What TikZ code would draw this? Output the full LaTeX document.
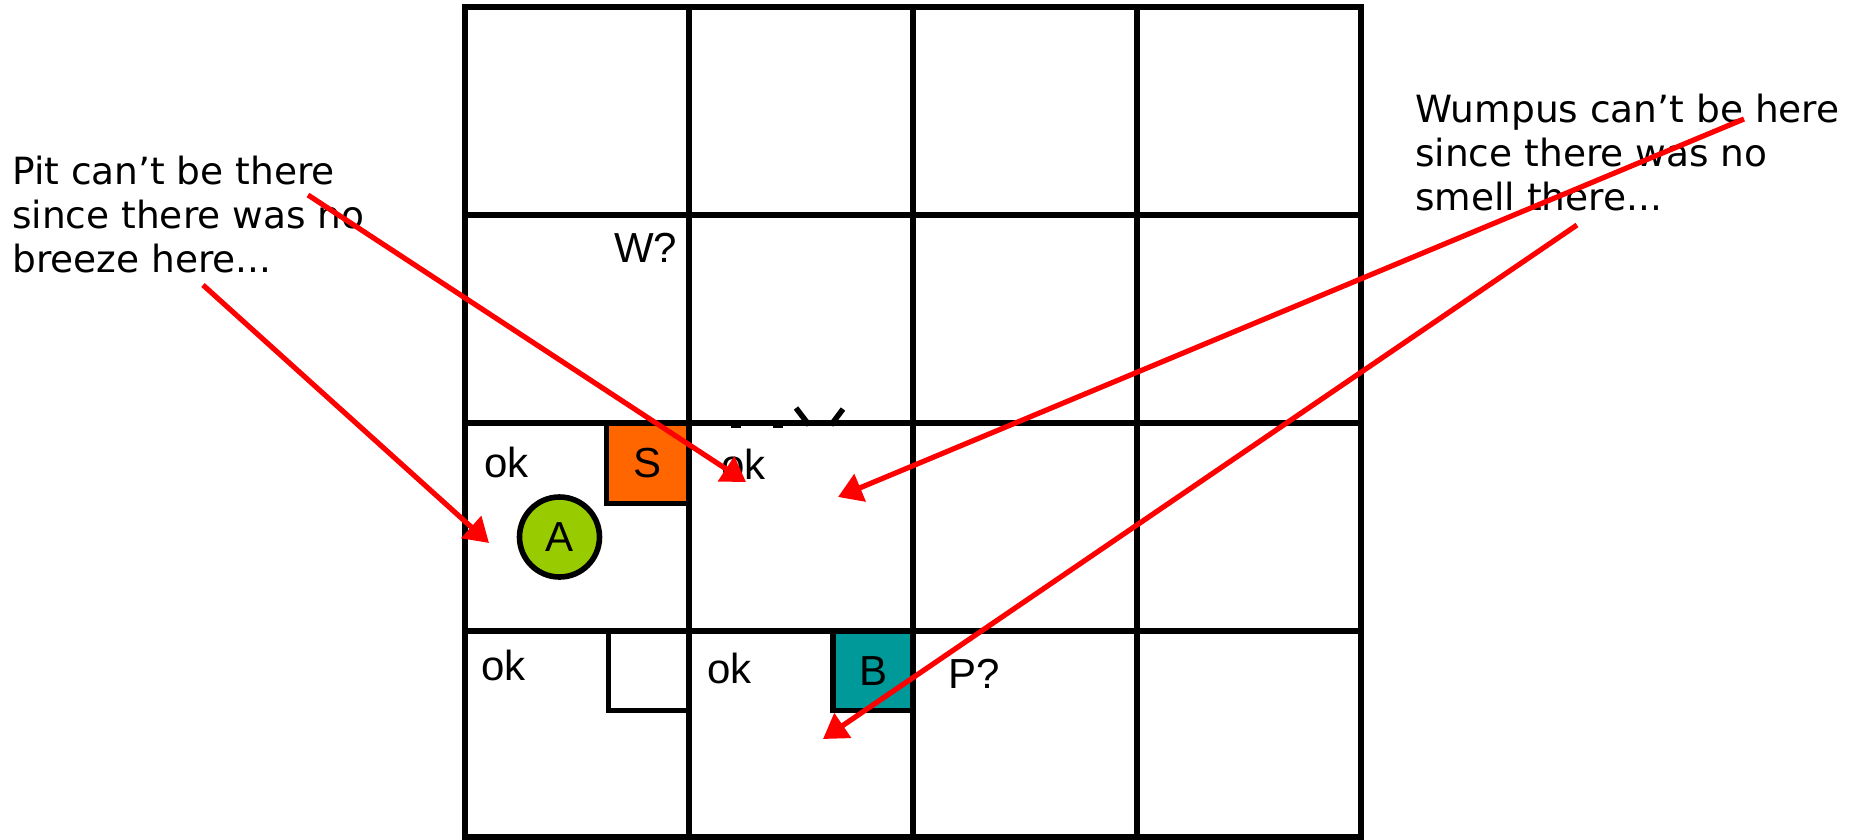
\documentclass[tikz,border=0pt]{standalone}
\usepackage{fontspec}
\setmainfont{Liberation Sans}
\newfontfamily\notefont{DejaVu Sans}
\usetikzlibrary{arrows.meta}
\definecolor{sorange}{HTML}{FF6600}
\definecolor{agreen}{HTML}{99CC00}
\definecolor{bteal}{HTML}{009999}
\definecolor{arred}{HTML}{FF0000}
\begin{document}
\begin{tikzpicture}[x=1pt,y=-1pt,
  gridline/.style={line width=5.4pt},
  celllabel/.style={font=\fontsize{42}{50}\selectfont, anchor=base west, inner sep=0pt},
  note/.style={font=\notefont\fontsize{37.5}{44}\selectfont, anchor=base west, align=left, inner sep=0pt},
  boxnode/.style={draw, line width=5.2pt, inner sep=0pt, outer sep=0pt, font=\fontsize{42}{50}\selectfont},
  arr/.style={draw=arred, line width=5.2pt, -{Triangle[length=24pt,width=29pt]}}
]
\useasboundingbox (0,0) rectangle (1850,839);
\fill[white] (0,0) rectangle (1850,839);

% boxes (under grid)
\node (S) [boxnode, fill=sorange, minimum width=82.5pt, minimum height=80.5pt, anchor=north west] at (606.5,423) {S};
\node (E) [boxnode, fill=white, minimum width=80.5pt, minimum height=79.5pt, anchor=north west, line width=4.8pt] at (608.5,631) {};
\node (B) [boxnode, fill=bteal, minimum width=80pt, minimum height=79.5pt, anchor=north west] at (833,631) {B};
\node (A) [boxnode, circle, fill=agreen, minimum size=80pt, line width=5.6pt] at (559.5,537) {A};

% grid
\draw[gridline] (465,7) rectangle (1361,837);
\foreach \x in {689,913,1137} \draw[gridline] (\x,7) -- (\x,837);
\foreach \y in {215,423,631} \draw[gridline] (465,\y) -- (1361,\y);

% fragments at top of cell
\draw[line width=5.5pt] (731,425) -- (741,425);
\draw[line width=5.5pt] (773,425) -- (783,425);
\draw[line width=5.5pt] (796,408) -- (809,425);
\draw[line width=5.5pt] (843,409) -- (831,425);

% cell labels
\node (W) [celllabel] at (614,262) {W?};
\node (ok1) [celllabel] at (484,477) {ok};
\node (ok2) [celllabel] at (721,479) {ok};
\node (ok3) [celllabel] at (481,680) {ok};
\node (ok4) [celllabel] at (707,683) {ok};
\node (P) [celllabel] at (948,688) {P?};

% notes (base anchor = baseline of last line)
\node (pit) [note] at (12,272) {Pit can’t be there\\since there was no\\breeze here...};
\node (wum) [note] at (1415,210) {Wumpus can’t be here\\since there was no\\smell there...};

% arrows
\coordinate (a1s) at (203,285); \coordinate (a1e) at (489,543);
\coordinate (a2s) at (308,195); \coordinate (a2e) at (746,482);
\coordinate (a3s) at (1744,119); \coordinate (a3e) at (838,497);
\coordinate (a4s) at (1577,225); \coordinate (a4e) at (823,739);
\draw[arr] (a1s) -- (a1e);
\draw[arr] (a2s) -- (a2e);
\draw[arr] (a3s) -- (a3e);
\draw[arr] (a4s) -- (a4e);
\end{tikzpicture}
\end{document}
